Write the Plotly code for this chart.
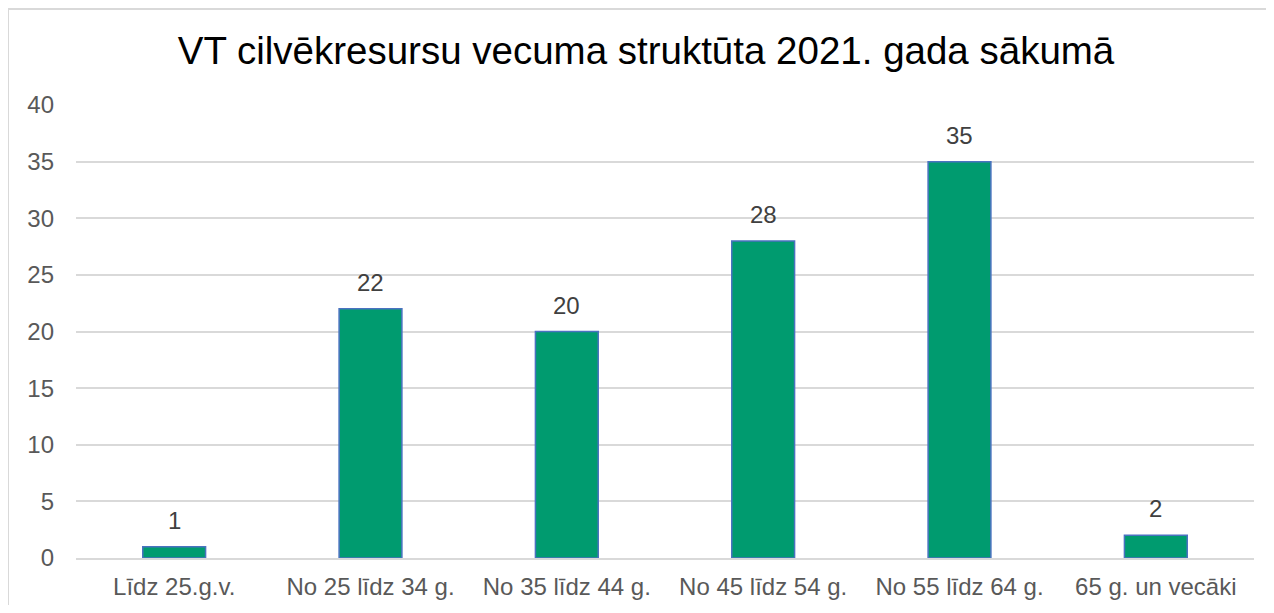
import plotly.graph_objects as go

categories = ["Līdz 25.g.v.", "No 25 līdz 34 g.", "No 35 līdz 44 g.", "No 45 līdz 54 g.", "No 55 līdz 64 g.", "65 g. un vecāki"]
values = [1, 22, 20, 28, 35, 2]
y_ticks = [0, 5, 10, 15, 20, 25, 30, 35, 40]

# page body has an 8px margin, so the figure sits at (8, 8)
W, H = 1258, 597
L, R, T, B = 68, 12, 97, 47
pw, ph = W - L - R, H - T - B

fig = go.Figure(go.Bar(
    x=categories, y=values,
    marker=dict(color="#009B6F", line=dict(color="#4A72C0", width=1.5)),
    hoverinfo="x+y",
))

for c, v in zip(categories, values):
    fig.add_annotation(x=c, y=v, text=str(v), showarrow=False, yanchor="bottom",
                       yshift=11, font=dict(family="Liberation Sans, Arial", size=24, color="#404040"))

fig.update_layout(
    width=W, height=H,
    margin=dict(l=L, r=R, t=T, b=B, autoexpand=False),
    paper_bgcolor="white", plot_bgcolor="white",
    bargap=0.68,
    title=dict(text="VT cilvēkresursu vecuma struktūta 2021. gada sākumā",
               x=638 / W, xanchor="center", y=1 - 43 / H, yanchor="middle",
               font=dict(family="Liberation Sans, Arial", size=38.5, color="#000000")),
    font=dict(family="Liberation Sans, Arial", color="#595959"),
    xaxis=dict(showgrid=False, showline=True, linecolor="#D9D9D9", linewidth=1.5,
               tickfont=dict(size=24, color="#595959"), ticks="", ticklabelstandoff=6,
               automargin=False),
    yaxis=dict(range=[0, 40], tickvals=y_ticks, showgrid=True, gridcolor="#D9D9D9",
               gridwidth=1.5, zeroline=False, tickfont=dict(size=24, color="#595959"),
               ticks="", ticklabelstandoff=21, automargin=False),
    shapes=[dict(type="rect", xref="paper", yref="paper",
                 x0=(0 - L) / pw, x1=(W + 20 - L) / pw,
                 y0=(-B - 20) / ph, y1=(H - B - 1) / ph,
                 line=dict(color="#D9D9D9", width=2), fillcolor="rgba(0,0,0,0)",
                 layer="below")],
    showlegend=False,
)

fig.write_html("out.html")
